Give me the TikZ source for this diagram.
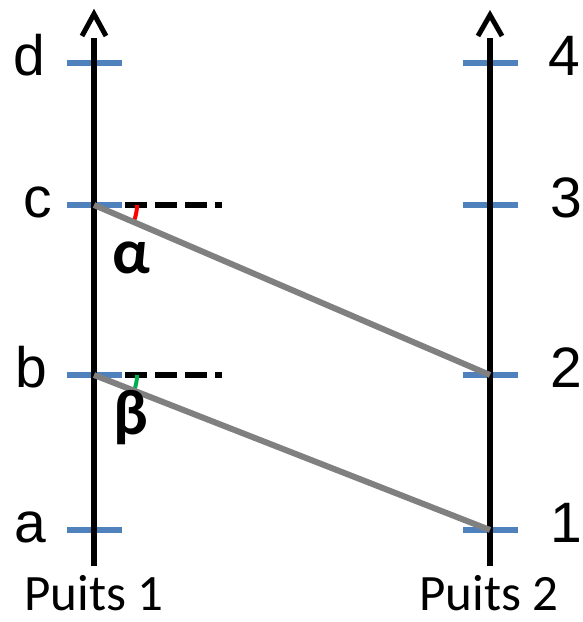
\documentclass[tikz,border=0pt]{standalone}
\usepackage{fontspec}
\setmainfont{Liberation Sans}
\newfontfamily\carlito{Carlito}
\usetikzlibrary{angles}
\definecolor{bleutrait}{RGB}{79,129,189}
\definecolor{grisrayon}{RGB}{128,128,128}
\definecolor{vertbeta}{RGB}{0,176,80}

\begin{document}
\begin{tikzpicture}[x=1pt,y=-1pt,
    axe/.style={line width=5.5},
    fleche/.style={line width=5,line join=miter},
    graduation/.style={bleutrait,line width=6},
    pointille/.style={line width=6,dash pattern=on 22pt off 8pt},
    rayon/.style={grisrayon,line width=6},
    lettre/.style={anchor=base,inner sep=0,font=\fontsize{57}{60}\selectfont},
    puits/.style={anchor=base,inner sep=0,font=\carlito\fontsize{51}{54}\selectfont},
    grec/.style={anchor=base,inner sep=0,font=\carlito\bfseries\fontsize{64}{66}\selectfont}]
        \useasboundingbox (0,0) rectangle (582,622);
        \coordinate (a) at (94,530);
        \coordinate (b) at (94,375);
        \coordinate (c) at (94,205);
        \coordinate (d) at (94,63);
        \coordinate (n1) at (490,530);
        \coordinate (n2) at (490,375);
        \coordinate (n3) at (490,205);
        \coordinate (n4) at (490,63);
        \coordinate (hb) at (222,375);
        \coordinate (hc) at (222,205);
        \foreach \p in {a,b,c,d,n1,n2,n3,n4}
            \draw[graduation] ([xshift=-27]\p) -- ([xshift=28]\p);
        \draw[axe] (94,566) -- (94,38);
        \draw[axe] (490,566) -- (490,38);
        \draw[fleche] (82,36) -- (94,14) -- (106,36);
        \draw[fleche] (478,36) -- (490,15) -- (502,36);
        \draw[pointille] ([xshift=31]c) -- (hc);
        \draw[pointille] ([xshift=31]b) -- (hb);
        \pic[draw=red,line width=4,angle radius=43] {angle = n2--c--hc};
        \pic[draw=vertbeta,line width=4,angle radius=43] {angle = n1--b--hb};
        \draw[rayon] (c) -- (n2);
        \draw[rayon] (b) -- (n1);
        \node[lettre] (la) at (30,542) {a};
        \node[lettre] (lb) at (31,387) {b};
        \node[lettre] (lc) at (38,217) {c};
        \node[lettre] (ld) at (29,75) {d};
        \node[lettre] (l1) at (566,542) {1};
        \node[lettre] (l2) at (566,387) {2};
        \node[lettre] (l3) at (566,217) {3};
        \node[lettre] (l4) at (564,75) {4};
        \node[grec] (alpha) at (131,273) {α};
        \node[grec] (beta) at (131,434) {β};
        \node[puits] (puits1) at (94,610) {Puits 1};
        \node[puits] (puits2) at (489,610) {Puits 2};
\end{tikzpicture}
\end{document}
